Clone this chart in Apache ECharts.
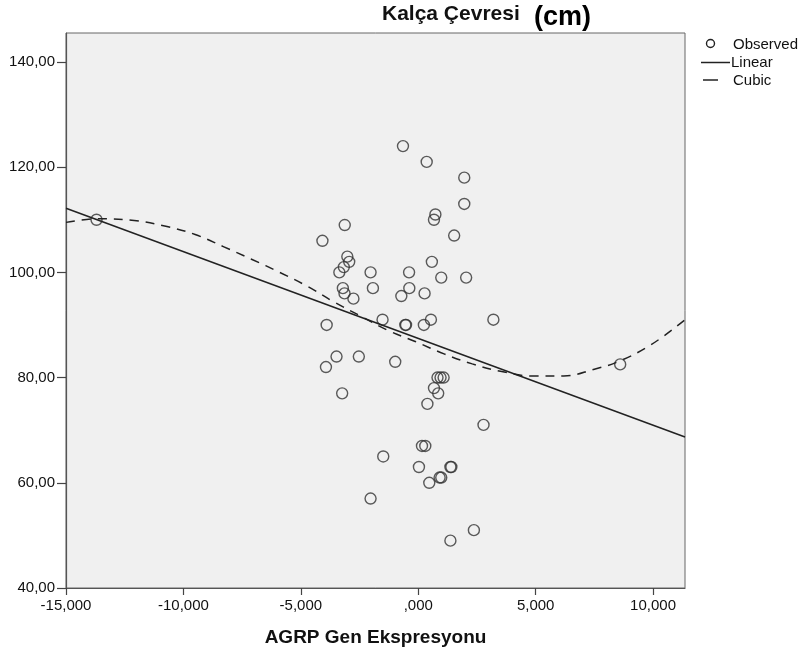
<!DOCTYPE html>
<html>
<head>
<meta charset="utf-8">
<script src="https://cdn.jsdelivr.net/npm/echarts@6/dist/echarts.min.js"></script>
<style>
  html, body { margin: 0; padding: 0; background: #fff; }
  #main { width: 808px; height: 655px; }
</style>
</head>
<body>
<div id="main"></div>
<script>
// observed points (AGRP expression, hip circumference)
var obsX = [-13.7, -0.65, 0.36, 1.96, 1.96, 0.73, 0.67, -3.13, -4.08, 1.53,
  -3.02, -2.94, -3.17, -3.36, -2.03, -0.39, 0.58, 0.98, 2.04, -3.21,
  -3.14, -2.76, -1.93, -0.38, -0.72, 0.27, -1.52, -0.55, -0.52, 0.24,
  0.54, 3.2, -3.9, -3.48, -2.53, -3.93, -0.98, 0.82, 0.95, 1.08,
  0.67, 0.85, 0.39, -3.24, 2.78, 0.16, 0.3, -1.49, 0.03, 1.37,
  1.41, 0.91, 0.98, 0.47, -2.03, 2.37, 1.37, 8.6];
var obsY = [110, 124, 121, 118, 113, 111, 110, 109, 106, 107,
  103, 102, 101, 100, 100, 100, 102, 99, 99, 97,
  96, 95, 97, 97, 95.5, 96, 91, 90, 90, 90,
  91, 91, 90, 84, 84, 82, 83, 80, 80, 80,
  78, 77, 75, 77, 71, 67, 67, 65, 63, 63,
  63, 61, 61, 60, 57, 51, 49, 82.5];

// linear fit, ends
var linX = [-15, 11.36];
var linY = [112.2, 68.7];

// cubic fit
var cubX = [-15, -13.6, -12, -10.7, -9.5, -8.3, -7.1, -5.9, -4.7, -3.6, -2.5,
  -1.3, -0.1, 1.1, 2.3, 3.5, 4.9, 6.2, 7.5, 8.5, 9.9, 11.36];
var cubY = [109.5, 110.2, 109.8, 108.7, 107.2, 104.9, 102.5, 100.0, 97.3, 94.4, 91.8,
  89.0, 86.8, 84.5, 82.6, 81.2, 80.3, 80.3, 81.6, 83.0, 86.2, 91.0];

function zip(a, b) { return a.map(function (v, i) { return [v, b[i]]; }); }

var font = 'Liberation Sans, Arial, sans-serif';
var ink = '#222';
var chart = echarts.init(document.getElementById('main'));
chart.setOption({
  animation: false,
  backgroundColor: '#fff',
  graphic: [
    // title
    { type: 'text', left: 382, top: 4, style: { text: 'Kalça Çevresi', font: 'bold 21px ' + font, fill: '#111' } },
    { type: 'text', left: 534, top: 4, style: { text: '(cm)', font: 'bold 27px ' + font, fill: '#000' } },
    // legend
    { type: 'circle', shape: { cx: 710.5, cy: 43.5, r: 4 }, style: { fill: 'none', stroke: ink, lineWidth: 1.4 } },
    { type: 'text', x: 733, y: 45, style: { text: 'Observed', font: '15px ' + font, fill: '#111', verticalAlign: 'middle' } },
    { type: 'line', shape: { x1: 701, y1: 62.5, x2: 730, y2: 62.5 }, style: { stroke: ink, lineWidth: 1.5 } },
    { type: 'text', x: 731, y: 63, style: { text: 'Linear', font: '15px ' + font, fill: '#111', verticalAlign: 'middle' } },
    { type: 'line', shape: { x1: 703, y1: 80, x2: 718, y2: 80 }, style: { stroke: ink, lineWidth: 1.5 } },
    { type: 'text', x: 733, y: 80.5, style: { text: 'Cubic', font: '15px ' + font, fill: '#111', verticalAlign: 'middle' } }
  ],
  grid: {
    left: 66, top: 33, right: 123, bottom: 67,
    show: true, backgroundColor: '#f0f0f0', borderColor: '#666', borderWidth: 1
  },
  xAxis: {
    type: 'value', min: -15, max: 11.36, interval: 5,
    name: 'AGRP Gen Ekspresyonu', nameLocation: 'middle', nameGap: 40,
    nameTextStyle: { fontFamily: font, fontSize: 19, fontWeight: 'bold', color: '#111', verticalAlign: 'top' },
    splitLine: { show: false },
    axisLine: { onZero: false, lineStyle: { color: '#555', width: 1.2 } },
    axisTick: { length: 7, lineStyle: { color: '#444', width: 1.2 } },
    axisLabel: {
      fontFamily: font, fontSize: 15, color: '#111', margin: 10, showMaxLabel: false,
      formatter: function (v) { return v === 0 ? ',000' : v.toFixed(3).replace('.', ','); }
    }
  },
  yAxis: {
    type: 'value', min: 40, max: 145.5, interval: 20,
    splitLine: { show: false },
    axisLine: { show: true, onZero: false, lineStyle: { color: '#555', width: 1.2 } },
    axisTick: { show: true, length: 9, lineStyle: { color: '#444', width: 1.2 } },
    axisLabel: {
      fontFamily: font, fontSize: 15, color: '#111', margin: 11, showMaxLabel: false,
      formatter: function (v) { return v.toFixed(2).replace('.', ','); }
    }
  },
  series: [
    {
      name: 'Observed', type: 'scatter', data: zip(obsX, obsY),
      symbol: 'circle', symbolSize: 11,
      itemStyle: { color: 'rgba(0,0,0,0)', borderColor: '#333', borderWidth: 1.4 }
    },
    {
      name: 'Linear', type: 'line', data: zip(linX, linY),
      symbol: 'none', lineStyle: { color: ink, width: 1.5 }
    },
    {
      name: 'Cubic', type: 'line', data: zip(cubX, cubY), smooth: 0.4,
      symbol: 'none', lineStyle: { color: ink, width: 1.5, type: [9, 7] }
    }
  ]
});
</script>
</body>
</html>
